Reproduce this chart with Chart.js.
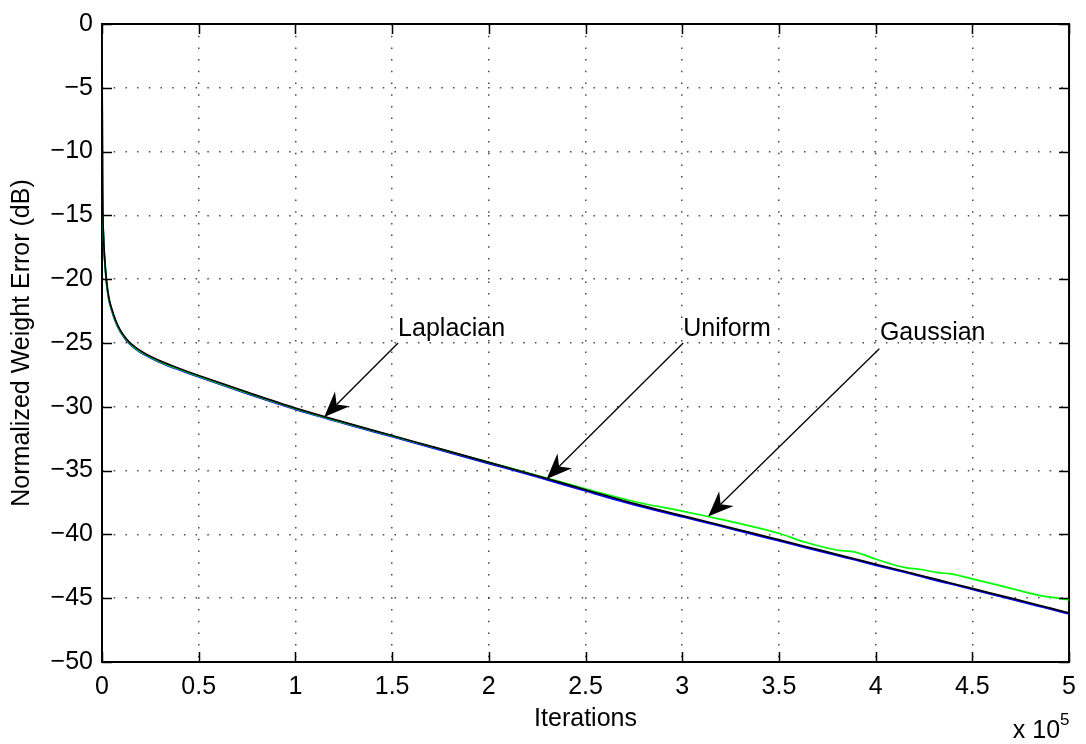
<!DOCTYPE html>
<html>
<head>
<meta charset="utf-8">
<script src="https://cdn.jsdelivr.net/npm/chart.js@4/dist/chart.umd.min.js"></script>
<style>
  html, body { margin: 0; padding: 0; background: #fff; }
  #wrap { width: 1086px; height: 744px; }
</style>
</head>
<body>
<div id="wrap"><canvas id="nweChart" width="1086" height="744"></canvas></div>
<script>
// iterations (x) and normalized weight error in dB for each noise type
const iterations = [0, 100, 250, 500, 750, 1000, 1500, 2400, 3500, 5000, 7000, 9300, 11500, 13600, 17000,
  22000, 30000, 40000, 50000, 75000, 100000, 125000, 150000, 175000, 200000, 225000, 250000,
  277300, 300500, 313400, 328900, 350700, 363200, 380400, 389000, 400700, 414800, 423400,
  432000, 438800, 450900, 466300, 483500, 490400, 500000];

const uniformErr = [0, -6.0, -12.0, -15.3, -16.5, -17.4, -18.6, -20.2, -21.4, -22.3, -23.2, -23.95, -24.45, -24.85, -25.3,
  -25.8, -26.4, -27.0, -27.55, -28.85, -30.1, -31.2, -32.25, -33.3, -34.35, -35.4, -36.5,
  -37.67, -38.55, -39.03, -39.62, -40.45, -40.93, -41.58, -41.91, -42.36, -42.89, -43.22,
  -43.55, -43.81, -44.27, -44.86, -45.51, -45.78, -46.16];

const laplacianErr = [0, -6.2, -12.3, -15.5, -16.7, -17.6, -18.8, -20.4, -21.58, -22.45, -23.35, -24.08, -24.58, -24.98, -25.43,
  -25.93, -26.52, -27.12, -27.67, -28.97, -30.2, -31.3, -32.35, -33.4, -34.45, -35.5, -36.6,
  -37.76, -38.64, -39.12, -39.7, -40.54, -41.02, -41.67, -41.99, -42.45, -42.97, -43.3,
  -43.64, -43.89, -44.35, -44.94, -45.6, -45.86, -46.24];

const gaussianErr = [0, -6.1, -12.15, -15.4, -16.6, -17.5, -18.7, -20.3, -21.5, -22.38, -23.28, -24.02, -24.52, -24.92, -25.37,
  -25.87, -26.46, -27.06, -27.61, -28.91, -30.15, -31.25, -32.29, -33.32, -34.35, -35.38, -36.42,
  -37.5, -38.19, -38.6, -39.12, -39.95, -40.6, -41.24, -41.37, -41.97, -42.59, -42.75,
  -43.0, -43.1, -43.52, -44.09, -44.74, -44.92, -45.13];

const xTicks = [0, 50000, 100000, 150000, 200000, 250000, 300000, 350000, 400000, 450000, 500000];
const yTicks = [0, -5, -10, -15, -20, -25, -30, -35, -40, -45, -50];

// text arrows: label anchor (left, middle) and arrow tail -> head, in data units
const notes = [
  { text: 'Laplacian', tx: 153100, ty: -23.9, ax: 153100, ay: -25.0, hx: 114900, hy: -30.79 },
  { text: 'Uniform',   tx: 300500, ty: -23.9, ax: 300500, ay: -25.0, hx: 229900, hy: -35.65 },
  { text: 'Gaussian',  tx: 402200, ty: -24.2, ax: 401900, ay: -25.45, hx: 313400, hy: -38.6 }
];

const FONT = "'Liberation Sans', Arial, Helvetica, sans-serif";

function pts(ys) {
  return iterations.map((x, i) => ({ x: x, y: ys[i] }));
}

function drawArrow(ctx, tx, ty, hx, hy) {
  const len = Math.hypot(tx - hx, ty - hy);
  const ux = (tx - hx) / len, uy = (ty - hy) / len;
  const px = -uy, py = ux;
  ctx.beginPath();
  ctx.moveTo(tx, ty);
  ctx.lineTo(hx + ux * 17.5, hy + uy * 17.5);
  ctx.stroke();
  ctx.beginPath();
  ctx.moveTo(hx, hy);
  ctx.lineTo(hx + ux * 25.5 + px * 10.3, hy + uy * 25.5 + py * 10.3);
  ctx.lineTo(hx + ux * 17.5, hy + uy * 17.5);
  ctx.lineTo(hx + ux * 25.5 - px * 10.3, hy + uy * 25.5 - py * 10.3);
  ctx.closePath();
  ctx.fill();
}

const framePlugin = {
  id: 'frame',
  beforeDatasetsDraw(chart) {
    const { ctx, chartArea: a } = chart;
    ctx.save();
    ctx.strokeStyle = '#000';
    ctx.lineWidth = 2;
    ctx.strokeRect(a.left, a.top, a.right - a.left, a.bottom - a.top);
    ctx.restore();
  },
  afterDatasetsDraw(chart) {
    const { ctx, chartArea: a, scales: { x, y } } = chart;
    ctx.save();
    // inward ticks on all four sides
    ctx.strokeStyle = '#000';
    ctx.lineWidth = 1.5;
    ctx.beginPath();
    xTicks.forEach(v => {
      const p = Math.round(x.getPixelForValue(v)) + 0.5;
      ctx.moveTo(p, a.bottom); ctx.lineTo(p, a.bottom - 10);
      ctx.moveTo(p, a.top); ctx.lineTo(p, a.top + 10);
    });
    yTicks.forEach(v => {
      const p = Math.round(y.getPixelForValue(v)) + 0.5;
      ctx.moveTo(a.left, p); ctx.lineTo(a.left + 10, p);
      ctx.moveTo(a.right, p); ctx.lineTo(a.right - 10, p);
    });
    ctx.stroke();

    // annotations
    ctx.fillStyle = '#000';
    ctx.lineWidth = 1.3;
    ctx.font = '25px ' + FONT;
    ctx.textAlign = 'left';
    ctx.textBaseline = 'middle';
    notes.forEach(n => {
      ctx.fillText(n.text, x.getPixelForValue(n.tx), y.getPixelForValue(n.ty));
      drawArrow(ctx, x.getPixelForValue(n.ax), y.getPixelForValue(n.ay),
        x.getPixelForValue(n.hx), y.getPixelForValue(n.hy));
    });

    // x 10^5 exponent label
    ctx.textBaseline = 'alphabetic';
    ctx.textAlign = 'right';
    ctx.font = '25px ' + FONT;
    ctx.fillText('x 10', a.right - 9, 738);
    ctx.textAlign = 'left';
    ctx.font = '17px ' + FONT;
    ctx.fillText('5', a.right - 9, 725);
    ctx.restore();
  }
};

const gridStyle = {
  color: 'rgba(40,40,40,0.85)',
  lineWidth: 1.5,
  drawTicks: false
};

new Chart(document.getElementById('nweChart'), {
  type: 'line',
  data: {
    datasets: [
      { label: 'Uniform', data: pts(uniformErr), borderColor: '#000000', order: 0 },
      { label: 'Gaussian', data: pts(gaussianErr), borderColor: '#00ff00', order: 1 },
      { label: 'Laplacian', data: pts(laplacianErr), borderColor: '#0000ff', order: 2 }
    ]
  },
  options: {
    responsive: false,
    animation: false,
    devicePixelRatio: 1,
    layout: { padding: { top: 21, right: 14, left: 0, bottom: 0 } },
    elements: {
      line: { borderWidth: 1.7, tension: 0.3, cubicInterpolationMode: 'monotone', fill: false },
      point: { radius: 0 }
    },
    plugins: {
      legend: { display: false },
      tooltip: { enabled: false }
    },
    scales: {
      x: {
        type: 'linear',
        min: 0,
        max: 500000,
        grid: gridStyle,
        border: { display: false, dash: [1.5, 10.2] },
        afterBuildTicks: s => { s.ticks = xTicks.map(v => ({ value: v })); },
        afterFit: s => { s.height = 82; },
        ticks: {
          color: '#000',
          padding: 10,
          maxRotation: 0,
          autoSkip: false,
          font: { family: FONT, size: 25 },
          callback: v => String(v / 100000)
        },
        title: {
          display: true,
          text: 'Iterations',
          color: '#000',
          padding: { top: 0, bottom: 10 },
          font: { family: FONT, size: 25 }
        }
      },
      y: {
        min: -50,
        max: 0,
        grid: gridStyle,
        border: { display: false, dash: [1.5, 10.2] },
        afterBuildTicks: s => { s.ticks = yTicks.slice().reverse().map(v => ({ value: v })); },
        afterFit: s => { s.width = 102; },
        ticks: {
          color: '#000',
          padding: 9,
          autoSkip: false,
          font: { family: FONT, size: 25 },
          callback: v => String(v).replace('-', '\u2212')
        },
        title: {
          display: true,
          text: 'Normalized Weight Error (dB)',
          color: '#000',
          padding: { top: 7, bottom: 0 },
          font: { family: FONT, size: 25 }
        }
      }
    }
  },
  plugins: [framePlugin]
});
</script>
</body>
</html>
